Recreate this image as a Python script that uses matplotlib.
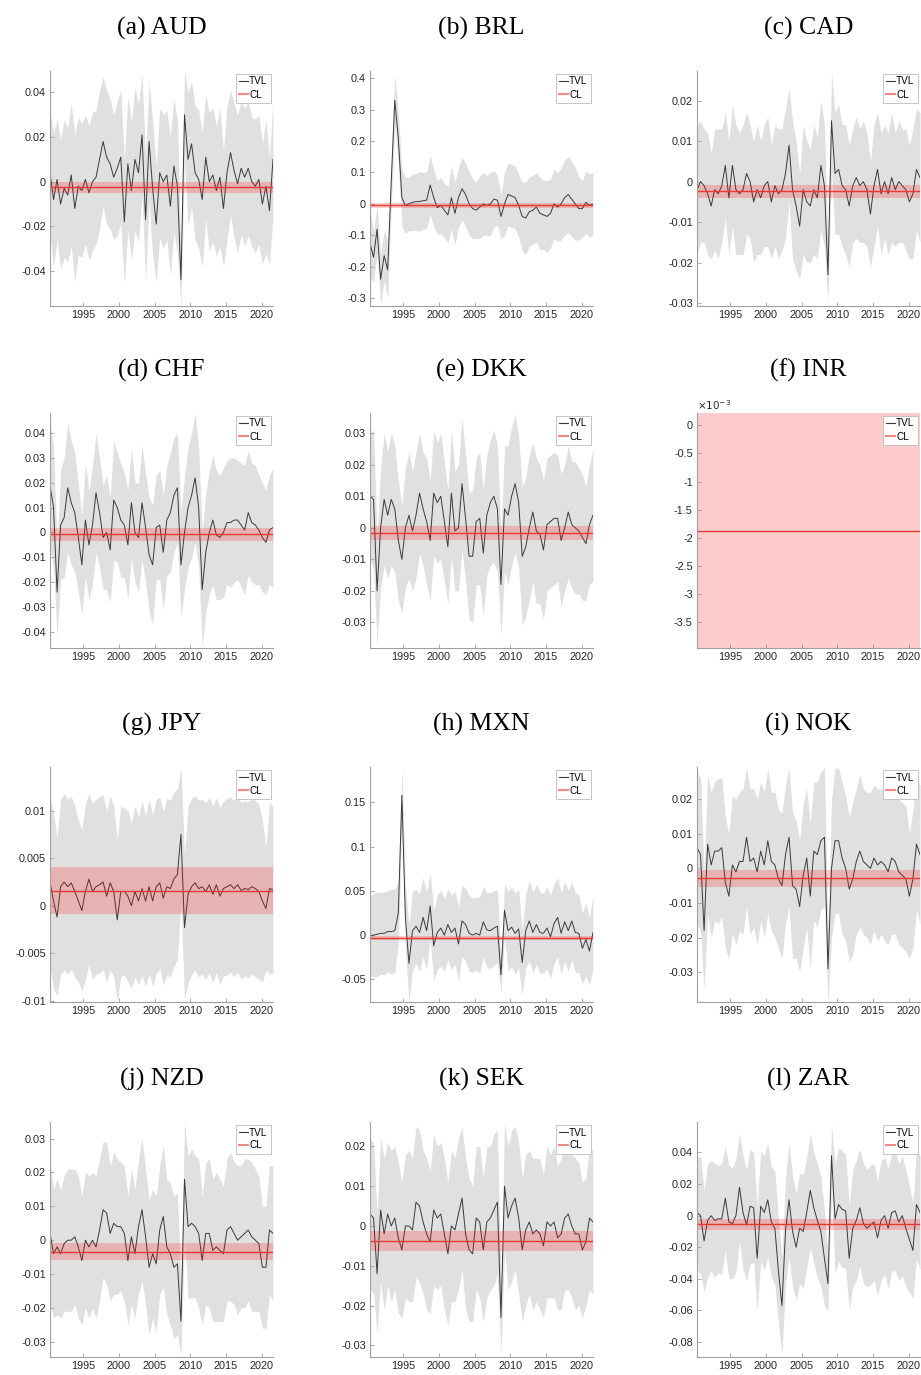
import numpy as np
import matplotlib
matplotlib.use('Agg')
import matplotlib.pyplot as plt
from matplotlib.lines import Line2D
from matplotlib.ticker import FuncFormatter, MultipleLocator

plt.rcParams['font.family'] = ['Liberation Sans', 'DejaVu Sans']
plt.rcParams['axes.unicode_minus'] = False

# sample span (roughly half-year steps), all series share it
start, end = 1990.33, 2021.6
xticks = [1995, 2000, 2005, 2010, 2015, 2020]

# ---- TVL estimates and half-width of grey band ----
aud_tvl = [0.004, -0.008, 0.001, -0.010, -0.003, -0.006, 0.003, -0.012, -0.002, -0.004,
           0.001, -0.005, 0.000, 0.002, 0.010, 0.018, 0.011, 0.008, 0.002, 0.006,
           0.011, -0.018, 0.008, -0.004, 0.010, 0.004, 0.021, -0.017, 0.018, -0.003,
           -0.019, 0.004, 0.000, 0.003, -0.011, 0.007, -0.002, -0.044, 0.030, 0.010,
           0.017, 0.004, 0.001, -0.008, 0.011, 0.000, 0.003, -0.004, 0.002, -0.012,
           0.004, 0.013, 0.005, -0.001, 0.006, 0.002, 0.006, 0.000, -0.002, 0.001,
           -0.010, -0.002, -0.013, 0.010]
aud_hw = [0.028, 0.030, 0.027, 0.029, 0.031, 0.030, 0.032, 0.033, 0.031, 0.030,
          0.029, 0.030, 0.031, 0.030, 0.031, 0.029, 0.030, 0.029, 0.028, 0.030,
          0.030, 0.028, 0.030, 0.031, 0.032, 0.031, 0.027, 0.028, 0.027, 0.030,
          0.026, 0.029, 0.030, 0.029, 0.031, 0.030, 0.030, 0.012, 0.020, 0.030,
          0.028, 0.030, 0.031, 0.030, 0.028, 0.031, 0.030, 0.029, 0.031, 0.026,
          0.030, 0.028, 0.030, 0.031, 0.030, 0.031, 0.030, 0.029, 0.030, 0.029,
          0.027, 0.030, 0.024, 0.026]

brl_tvl = [-0.125, -0.17, -0.08, -0.24, -0.165, -0.21, 0.07, 0.33, 0.21, 0.02,
           -0.005, 0.0, 0.005, 0.007, 0.008, 0.01, 0.012, 0.06, 0.02, -0.012,
           -0.005, -0.02, -0.035, 0.02, -0.03, 0.02, 0.048, 0.03, 0.0, -0.015,
           -0.02, -0.01, 0.0, -0.005, 0.0, 0.015, 0.012, -0.04, 0.0, 0.03,
           0.025, 0.02, -0.005, -0.04, -0.045, -0.025, -0.02, -0.01, -0.03, -0.035,
           -0.04, -0.03, 0.0, -0.01, 0.0, 0.02, 0.03, 0.015, 0.0, -0.015,
           -0.015, 0.005, -0.005, 0.0]
brl_hw = [0.11, 0.08, 0.08, 0.08, 0.08, 0.09, 0.08, 0.08, 0.08, 0.09,
          0.09, 0.085, 0.09, 0.09, 0.095, 0.09, 0.09, 0.095, 0.09, 0.085,
          0.09, 0.085, 0.09, 0.1, 0.1, 0.095, 0.1, 0.1, 0.1, 0.095,
          0.09, 0.1, 0.1, 0.095, 0.1, 0.09, 0.08, 0.07, 0.1, 0.1,
          0.1, 0.1, 0.1, 0.11, 0.115, 0.11, 0.11, 0.11, 0.115, 0.11,
          0.115, 0.11, 0.11, 0.11, 0.115, 0.12, 0.12, 0.12, 0.115, 0.1,
          0.09, 0.1, 0.1, 0.1]

cad_tvl = [-0.002, 0.000, -0.001, -0.003, -0.006, -0.002, -0.003, -0.001, 0.004, -0.004,
           0.004, -0.002, -0.003, -0.002, 0.002, 0.000, -0.005, -0.002, -0.004, -0.001,
           0.000, -0.005, -0.001, -0.003, -0.002, 0.002, 0.009, -0.002, -0.006, -0.011,
           -0.002, -0.005, -0.006, -0.002, -0.004, 0.004, -0.001, -0.023, 0.015, 0.002,
           0.003, -0.001, -0.002, -0.006, -0.001, 0.001, -0.001, 0.000, -0.002, -0.008,
           -0.001, 0.003, -0.003, 0.000, -0.003, 0.001, -0.002, 0.000, -0.001, -0.002,
           -0.005, -0.003, 0.003, 0.001]
cad_hw = [0.016, 0.015, 0.014, 0.015, 0.013, 0.015, 0.016, 0.014, 0.013, 0.014,
          0.015, 0.016, 0.015, 0.016, 0.015, 0.014, 0.015, 0.016, 0.014, 0.015,
          0.016, 0.014, 0.015, 0.016, 0.015, 0.016, 0.014, 0.017, 0.016, 0.013,
          0.016, 0.015, 0.014, 0.016, 0.015, 0.016, 0.015, 0.007, 0.012, 0.015,
          0.016, 0.015, 0.016, 0.015, 0.014, 0.015, 0.014, 0.015, 0.014, 0.013,
          0.015, 0.014, 0.015, 0.014, 0.015, 0.016, 0.014, 0.015, 0.014, 0.015,
          0.014, 0.016, 0.015, 0.016]

chf_tvl = [0.019, 0.010, -0.024, 0.003, 0.006, 0.018, 0.012, 0.008, -0.002, -0.013,
           0.005, -0.005, 0.003, 0.016, 0.008, -0.002, 0.000, -0.007, 0.013, 0.010,
           0.005, 0.003, -0.005, 0.012, 0.000, -0.002, 0.012, 0.002, -0.009, -0.013,
           0.002, 0.003, -0.008, 0.005, 0.008, 0.015, 0.018, -0.013, 0.000, 0.010,
           0.015, 0.022, 0.010, -0.023, -0.008, 0.000, 0.005, -0.001, -0.002, 0.000,
           0.004, 0.004, 0.005, 0.005, 0.003, 0.001, 0.008, 0.004, 0.003, 0.001,
           -0.002, -0.004, 0.001, 0.002]
chf_hw = [0.026, 0.024, 0.018, 0.022, 0.024, 0.026, 0.025, 0.024, 0.022, 0.020,
          0.023, 0.022, 0.024, 0.024, 0.022, 0.021, 0.023, 0.021, 0.024, 0.022,
          0.023, 0.021, 0.022, 0.022, 0.020, 0.022, 0.023, 0.022, 0.023, 0.024,
          0.021, 0.022, 0.023, 0.022, 0.024, 0.023, 0.022, 0.021, 0.023, 0.024,
          0.025, 0.026, 0.024, 0.023, 0.024, 0.025, 0.026, 0.026, 0.025, 0.026,
          0.025, 0.026, 0.025, 0.024, 0.025, 0.026, 0.025, 0.024, 0.024, 0.022,
          0.022, 0.021, 0.022, 0.024]

dkk_tvl = [0.010, 0.009, -0.020, 0.000, 0.009, 0.004, 0.009, 0.006, -0.004, -0.010,
           0.000, 0.004, -0.001, 0.004, 0.011, 0.006, 0.002, -0.004, 0.011, 0.008,
           0.010, 0.002, -0.006, 0.011, -0.001, 0.000, 0.014, 0.003, -0.009, -0.009,
           0.002, 0.003, -0.008, 0.004, 0.008, 0.010, 0.006, -0.018, 0.006, 0.004,
           0.010, 0.014, 0.008, -0.009, -0.006, 0.000, 0.005, -0.001, -0.002, -0.007,
           0.001, 0.002, 0.003, 0.003, -0.004, 0.000, 0.005, 0.001, 0.000, -0.001,
           -0.003, -0.005, 0.001, 0.004]
dkk_hw = [0.020, 0.022, 0.017, 0.019, 0.021, 0.020, 0.021, 0.020, 0.019, 0.017,
          0.019, 0.020, 0.019, 0.020, 0.019, 0.018, 0.020, 0.019, 0.020, 0.019,
          0.020, 0.019, 0.018, 0.020, 0.019, 0.020, 0.021, 0.020, 0.020, 0.021,
          0.020, 0.021, 0.020, 0.019, 0.020, 0.021, 0.020, 0.016, 0.020, 0.022,
          0.022, 0.022, 0.021, 0.022, 0.022, 0.023, 0.022, 0.023, 0.022, 0.022,
          0.021, 0.021, 0.021, 0.020, 0.021, 0.020, 0.021, 0.020, 0.021, 0.020,
          0.020, 0.018, 0.019, 0.021]

inr_tvl = [-0.00188, -0.00188]
inr_hw = [0.0, 0.0]

jpy_tvl = [0.0025, 0.0005, -0.0012, 0.0020, 0.0025, 0.0020, 0.0024, 0.0015, 0.0005, -0.0005,
           0.0015, 0.0028, 0.0015, 0.0020, 0.0022, 0.0025, 0.0010, 0.0024, 0.0015, -0.0015,
           0.0015, 0.0015, 0.0010, 0.0000, 0.0015, 0.0005, 0.0018, 0.0005, 0.0020, 0.0005,
           0.0020, 0.0024, 0.0008, 0.0020, 0.0018, 0.0028, 0.0033, 0.0075, -0.0023, 0.0012,
           0.0020, 0.0024, 0.0018, 0.0020, 0.0015, 0.0022, 0.0012, 0.0022, 0.0010, 0.0018,
           0.0020, 0.0022, 0.0018, 0.0022, 0.0016, 0.0018, 0.0017, 0.0020, 0.0018, 0.0015,
           0.0005, -0.0003, 0.0018, 0.0017]
jpy_hw = [0.0090, 0.0092, 0.0083, 0.0092, 0.0093, 0.0092, 0.0091, 0.0090, 0.0085, 0.0085,
          0.0092, 0.0090, 0.0093, 0.0092, 0.0093, 0.0092, 0.0090, 0.0092, 0.0090, 0.0085,
          0.0090, 0.0088, 0.0090, 0.0087, 0.0090, 0.0088, 0.0092, 0.0090, 0.0092, 0.0090,
          0.0092, 0.0090, 0.0091, 0.0093, 0.0093, 0.0092, 0.0090, 0.0070, 0.0077, 0.0093,
          0.0093, 0.0092, 0.0093, 0.0092, 0.0093, 0.0092, 0.0093, 0.0092, 0.0093, 0.0092,
          0.0093, 0.0092, 0.0093, 0.0092, 0.0093, 0.0092, 0.0093, 0.0092, 0.0093, 0.0092,
          0.0085, 0.0065, 0.0090, 0.0088]

mxn_tvl = [-0.001, 0.000, 0.001, 0.002, 0.002, 0.004, 0.004, 0.005, 0.025, 0.158,
           0.020, -0.032, 0.005, 0.010, 0.003, 0.020, 0.005, 0.033, -0.012, 0.003,
           0.008, 0.000, 0.012, 0.003, 0.008, -0.010, 0.016, 0.012, 0.002, 0.000,
           0.002, 0.000, 0.015, 0.006, 0.005, 0.008, 0.010, -0.045, 0.028, 0.005,
           0.009, 0.002, 0.007, -0.031, 0.005, 0.016, 0.003, 0.012, 0.003, 0.002,
           0.008, -0.002, 0.013, 0.020, 0.002, 0.015, 0.005, 0.016, 0.003, 0.002,
           -0.015, -0.005, -0.018, 0.003]
mxn_hw = [0.045, 0.047, 0.048, 0.046, 0.047, 0.046, 0.048, 0.047, 0.035, 0.032,
          0.035, 0.043, 0.045, 0.042, 0.044, 0.045, 0.044, 0.037, 0.040, 0.042,
          0.043, 0.041, 0.040, 0.042, 0.041, 0.042, 0.040, 0.041, 0.043, 0.042,
          0.041, 0.043, 0.040, 0.042, 0.043, 0.042, 0.041, 0.020, 0.030, 0.045,
          0.045, 0.046, 0.044, 0.037, 0.042, 0.045, 0.046, 0.045, 0.046, 0.045,
          0.046, 0.047, 0.045, 0.045, 0.046, 0.045, 0.046, 0.044, 0.045, 0.044,
          0.040, 0.041, 0.038, 0.042]

nok_tvl = [0.006, 0.004, -0.018, 0.007, 0.001, 0.005, 0.005, 0.006, -0.004, -0.008,
           0.001, -0.001, 0.002, 0.002, 0.009, 0.002, 0.003, -0.001, 0.005, 0.001,
           0.008, 0.002, 0.001, -0.003, -0.005, 0.004, 0.009, -0.005, -0.006, -0.011,
           -0.002, 0.003, -0.008, 0.005, 0.004, 0.008, 0.009, -0.029, 0.000, 0.008,
           0.008, 0.003, 0.000, -0.006, -0.003, 0.002, 0.005, 0.002, 0.001, 0.000,
           0.003, 0.001, 0.002, 0.001, -0.001, 0.003, 0.002, -0.001, -0.002, -0.003,
           -0.008, -0.003, 0.007, 0.004]
nok_hw = [0.022, 0.022, 0.017, 0.020, 0.021, 0.020, 0.021, 0.020, 0.019, 0.018,
          0.020, 0.021, 0.020, 0.021, 0.020, 0.021, 0.020, 0.021, 0.020, 0.021,
          0.021, 0.020, 0.021, 0.020, 0.021, 0.020, 0.020, 0.021, 0.020, 0.019,
          0.021, 0.020, 0.021, 0.020, 0.021, 0.020, 0.020, 0.010, 0.020, 0.021,
          0.021, 0.022, 0.021, 0.021, 0.022, 0.021, 0.022, 0.021, 0.021, 0.022,
          0.021, 0.022, 0.021, 0.022, 0.021, 0.022, 0.021, 0.021, 0.021, 0.021,
          0.018, 0.020, 0.019, 0.020]

nzd_tvl = [0.002, -0.004, -0.002, -0.004, -0.001, 0.000, 0.000, 0.001, -0.002, -0.006,
           0.000, -0.002, 0.000, -0.002, 0.003, 0.009, 0.008, 0.002, 0.005, 0.004,
           0.004, 0.002, -0.006, 0.001, -0.004, 0.004, 0.009, 0.001, -0.008, -0.004,
           -0.007, 0.003, 0.007, -0.002, -0.004, -0.008, -0.007, -0.024, 0.018, 0.004,
           0.005, 0.004, 0.002, -0.006, 0.002, 0.002, -0.003, -0.002, -0.003, -0.004,
           0.003, 0.004, 0.002, 0.000, 0.001, 0.002, 0.003, 0.001, 0.000, -0.001,
           -0.008, -0.008, 0.003, 0.002]
nzd_hw = [0.021, 0.019, 0.020, 0.019, 0.020, 0.021, 0.021, 0.020, 0.021, 0.019,
          0.020, 0.021, 0.020, 0.021, 0.021, 0.020, 0.021, 0.020, 0.021, 0.020,
          0.019, 0.020, 0.019, 0.020, 0.019, 0.020, 0.021, 0.020, 0.020, 0.019,
          0.020, 0.019, 0.021, 0.020, 0.021, 0.021, 0.021, 0.010, 0.017, 0.021,
          0.022, 0.021, 0.022, 0.019, 0.021, 0.022, 0.021, 0.022, 0.021, 0.020,
          0.021, 0.022, 0.021, 0.022, 0.021, 0.022, 0.021, 0.022, 0.021, 0.020,
          0.018, 0.018, 0.019, 0.020]

sek_tvl = [0.003, 0.002, -0.012, 0.004, -0.002, 0.003, 0.000, 0.002, -0.003, -0.006,
           0.000, 0.000, -0.001, 0.006, 0.005, 0.001, -0.002, -0.004, 0.004, 0.002,
           0.003, -0.002, -0.007, 0.000, -0.001, 0.003, 0.007, -0.002, -0.006, -0.007,
           0.002, 0.001, -0.006, 0.001, 0.002, 0.004, 0.006, -0.023, 0.010, 0.002,
           0.005, 0.007, 0.002, -0.006, -0.001, 0.001, -0.002, -0.001, -0.002, -0.005,
           0.001, 0.000, 0.001, -0.003, -0.002, 0.002, 0.003, 0.000, -0.002, -0.002,
           -0.006, -0.004, 0.002, 0.001]
sek_hw = [0.019, 0.019, 0.015, 0.018, 0.019, 0.018, 0.019, 0.018, 0.019, 0.017,
          0.018, 0.019, 0.018, 0.019, 0.019, 0.018, 0.019, 0.018, 0.019, 0.018,
          0.018, 0.019, 0.018, 0.019, 0.018, 0.019, 0.018, 0.019, 0.018, 0.017,
          0.018, 0.019, 0.018, 0.019, 0.018, 0.019, 0.018, 0.009, 0.016, 0.018,
          0.019, 0.018, 0.019, 0.018, 0.019, 0.018, 0.019, 0.018, 0.019, 0.018,
          0.019, 0.018, 0.019, 0.018, 0.019, 0.018, 0.019, 0.018, 0.019, 0.018,
          0.017, 0.016, 0.018, 0.018]

zar_tvl = [0.002, 0.000, -0.016, -0.003, 0.000, -0.003, -0.002, -0.002, 0.011, -0.004,
           -0.005, 0.000, 0.018, 0.002, -0.006, 0.006, 0.005, -0.027, 0.006, 0.002,
           0.010, -0.004, -0.008, -0.035, -0.057, -0.010, 0.010, -0.010, -0.020, -0.008,
           -0.010, 0.002, 0.016, 0.005, -0.003, -0.010, -0.027, -0.043, 0.038, -0.002,
           0.007, 0.004, 0.003, -0.027, -0.008, -0.003, 0.005, -0.005, -0.008, -0.006,
           -0.004, -0.014, -0.003, 0.000, -0.008, 0.002, 0.003, -0.004, 0.000, -0.008,
           -0.015, -0.022, 0.007, 0.002]
zar_hw = [0.036, 0.037, 0.032, 0.036, 0.035, 0.036, 0.034, 0.035, 0.033, 0.036,
          0.035, 0.036, 0.034, 0.036, 0.035, 0.036, 0.035, 0.033, 0.035, 0.036,
          0.036, 0.035, 0.036, 0.033, 0.031, 0.034, 0.036, 0.035, 0.034, 0.035,
          0.036, 0.035, 0.036, 0.035, 0.036, 0.035, 0.030, 0.017, 0.020, 0.035,
          0.036, 0.037, 0.036, 0.033, 0.037, 0.038, 0.037, 0.038, 0.037, 0.038,
          0.037, 0.036, 0.038, 0.037, 0.038, 0.037, 0.038, 0.037, 0.038, 0.037,
          0.034, 0.030, 0.035, 0.036]

# constant level (CL) and half-width of its red band
cl_level = [-0.0025, -0.005, -0.0024, -0.0008, -0.0017, -0.00188,
            0.00155, -0.003, -0.0029, -0.00345, -0.0037, -0.0055]
cl_half = [0.0025, 0.0085, 0.0016, 0.0025, 0.0022, 0.01,
           0.00247, 0.0025, 0.0025, 0.0025, 0.0025, 0.0033]

titles = ['(a) AUD', '(b) BRL', '(c) CAD', '(d) CHF', '(e) DKK', '(f) INR',
          '(g) JPY', '(h) MXN', '(i) NOK', '(j) NZD', '(k) SEK', '(l) ZAR']
tvls = [aud_tvl, brl_tvl, cad_tvl, chf_tvl, dkk_tvl, inr_tvl,
        jpy_tvl, mxn_tvl, nok_tvl, nzd_tvl, sek_tvl, zar_tvl]
hws = [aud_hw, brl_hw, cad_hw, chf_hw, dkk_hw, inr_hw,
       jpy_hw, mxn_hw, nok_hw, nzd_hw, sek_hw, zar_hw]
ylims = [(-0.0557, 0.0496), (-0.325, 0.423), (-0.0307, 0.0273), (-0.0465, 0.0481),
         (-0.0381, 0.0364), (-0.00396, 0.00022), (-0.01014, 0.0146), (-0.0756, 0.190),
         (-0.0386, 0.0293), (-0.0345, 0.0349), (-0.0329, 0.0261), (-0.0895, 0.0593)]
ysteps = [0.02, 0.1, 0.01, 0.01, 0.01, 0.0005, 0.005, 0.05, 0.01, 0.01, 0.01, 0.02]

W, H = 921, 1375
col_left = [50, 370, 697]
row_top = [71, 413, 767, 1122]
aw, ah = 223, 235
spine_c = '#a0a0a0'
text_c = '#262626'

fig = plt.figure(figsize=(W / 100, H / 100), dpi=100)

for k in range(12):
    r, c = divmod(k, 3)
    ax = fig.add_axes([col_left[c] / W, 1 - (row_top[r] + ah) / H, aw / W, ah / H])
    tvl = np.array(tvls[k])
    hw = np.array(hws[k])
    x = np.linspace(start, end, len(tvl))

    ax.fill_between(x, tvl - hw, tvl + hw, color='#e0e0e0', lw=0, zorder=1)
    ax.plot(x, tvl, color='#3a3a3a', lw=0.7, zorder=2)
    ax.axhspan(cl_level[k] - cl_half[k], cl_level[k] + cl_half[k],
               color='red', alpha=0.2, lw=0, zorder=3)
    ax.axhline(cl_level[k], color='#e53935', lw=1.0, zorder=4)

    ax.set_xlim(start, end)
    ax.set_ylim(*ylims[k])
    ax.set_xticks(xticks)
    ax.yaxis.set_major_locator(MultipleLocator(ysteps[k]))
    if k == 5:
        ax.yaxis.set_major_formatter(FuncFormatter(lambda v, p: '%g' % (round(v * 1e3, 6) + 0.0)))
        ax.text(0.0, 1.005, r'$\times10^{-3}$', transform=ax.transAxes,
                ha='left', va='bottom', fontsize=7.5, color=text_c)
    else:
        ax.yaxis.set_major_formatter(FuncFormatter(lambda v, p: '%g' % (round(v, 6) + 0.0)))

    for s in ['top', 'right']:
        ax.spines[s].set_visible(False)
    for s in ['left', 'bottom']:
        ax.spines[s].set_color(spine_c)
        ax.spines[s].set_linewidth(0.8)
        ax.spines[s].set_zorder(6)
    ax.tick_params(direction='in', length=3, width=0.6, color=spine_c,
                   labelsize=7.8, labelcolor=text_c, pad=3)

    handles = [Line2D([], [], color='#3a3a3a', lw=0.8),
               Line2D([], [], color='#f08a8a', lw=1.5)]
    leg = ax.legend(handles, ['TVL', 'CL'], loc='upper right', fontsize=7.2,
                    frameon=True, fancybox=False, framealpha=1,
                    edgecolor='#bdbdbd', handlelength=0.9, handletextpad=0.15,
                    borderpad=0.3, labelspacing=0.3, borderaxespad=0.25)
    leg.get_frame().set_linewidth(0.6)
    leg.set_zorder(10)

    ax.text(0.5, 1 + 43 / ah, titles[k], transform=ax.transAxes, ha='center',
            va='center', fontsize=18.5, family=['Liberation Serif', 'DejaVu Serif'],
            color='black')

fig.savefig('out.png', dpi=100)
